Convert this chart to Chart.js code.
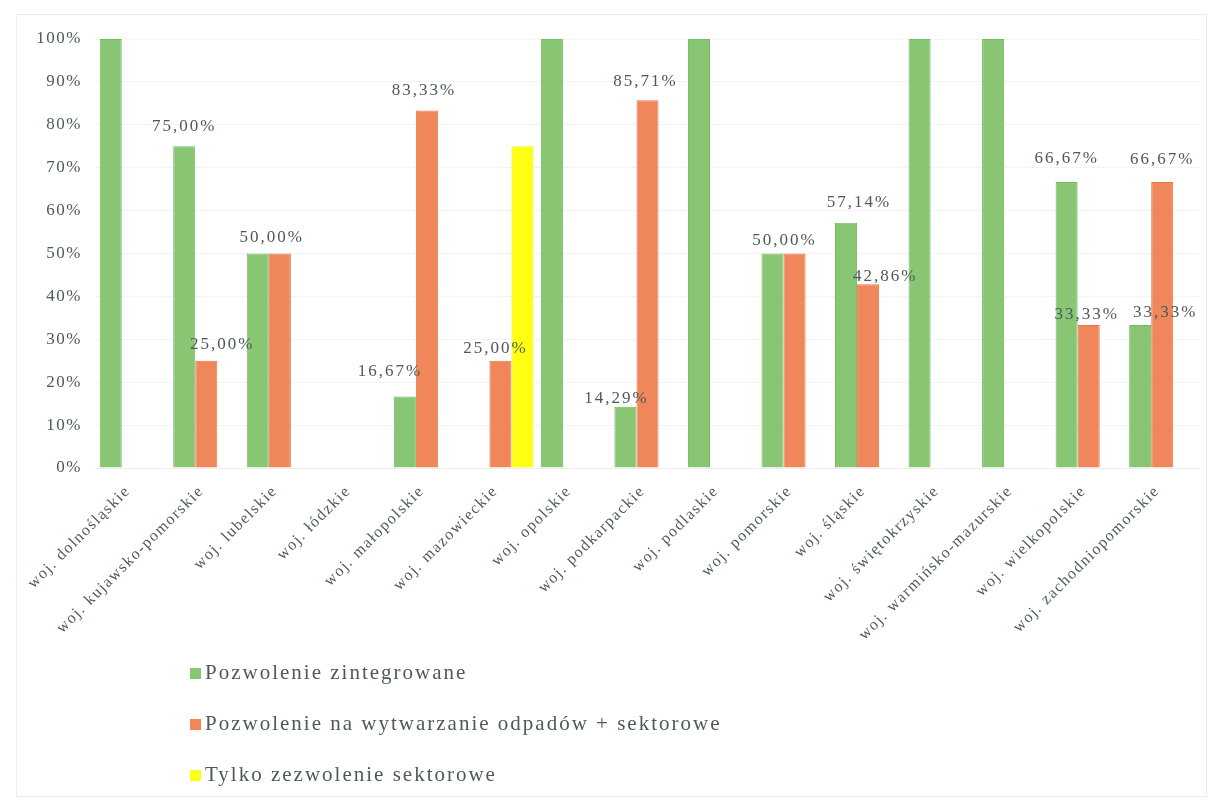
<!DOCTYPE html>
<html><head><meta charset="utf-8">
<script src="https://cdn.jsdelivr.net/npm/chart.js@4.4.0/dist/chart.umd.min.js"></script>
<style>html,body{margin:0;padding:0;background:#fff;}canvas{display:block}</style>
</head><body>
<canvas id="c" width="1213" height="800"></canvas>
<script>
// ---- data ----
const categories = ["woj. dolnośląskie","woj. kujawsko-pomorskie","woj. lubelskie","woj. łódzkie","woj. małopolskie","woj. mazowieckie","woj. opolskie","woj. podkarpackie","woj. podlaskie","woj. pomorskie","woj. śląskie","woj. świętokrzyskie","woj. warmińsko-mazurskie","woj. wielkopolskie","woj. zachodniopomorskie"];
const seriesNames = ["Pozwolenie zintegrowane","Pozwolenie na wytwarzanie odpadów + sektorowe","Tylko zezwolenie sektorowe"];
const integrated  = [100, 75, 50, null, 16.67, null, 100, 14.29, 100, 50, 57.14, 100, 100, 66.67, 33.33];
const wasteSector = [null, 25, 50, null, 83.33, 25, null, 85.71, null, 50, 42.86, null, null, 33.33, 66.67];
const sectorOnly  = [null, null, null, null, null, 75, null, null, null, null, null, null, null, null, null];
const yTickValues = [0,10,20,30,40,50,60,70,80,90,100];

// ---- styling / layout (not data) ----
const colors = ["#88c673","#f0875a","#ffff14"];
const borders = ["#74bb60","#e8774a","#f2ec00"];
const textColor = "#4d5a5a";
const serif = "'Liberation Serif','Times New Roman',serif";
// label nudges relative to default position (dx, dy of label centre vs bar top)
const labelNudge = {
  "0:1":[0,-20], "1:1":[16,-16], "0:2":[3,-16],
  "0:4":[-15,-25], "1:4":[-3,-20], "1:5":[-5,-12],
  "0:7":[-9,-8], "1:7":[-2,-19], "0:9":[1,-13],
  "0:10":[13,-20], "1:10":[17,-8],
  "0:13":[0,-23], "1:13":[-2,-10],
  "0:14":[25,-12], "1:14":[0,-22]
};

const fmt = v => v.toFixed(2).replace('.', ',') + '%';

const spacingPlugin = {
  id:'spacing',
  beforeLayout(chart){ chart.ctx.letterSpacing = '1.5px'; },
  beforeDraw(chart){
    const ctx = chart.ctx;
    ctx.letterSpacing = '1.5px';
    ctx.save();
    ctx.fillStyle = '#fff';
    ctx.fillRect(0,0,chart.width,chart.height);
    ctx.strokeStyle = '#ececec';
    ctx.lineWidth = 1;
    ctx.strokeRect(16.5,14.5,1190,782);
    ctx.restore();
  }
};

const dataLabels = {
  id:'dataLabels',
  afterDatasetsDraw(chart){
    const ctx = chart.ctx;
    ctx.save();
    ctx.letterSpacing = '2px';
    ctx.font = "17px " + serif;
    ctx.fillStyle = textColor;
    ctx.textAlign = 'center';
    ctx.textBaseline = 'middle';
    const d0 = chart.data.datasets[0].data, d1 = chart.data.datasets[1].data;
    [0,1].forEach(di => {
      const meta = chart.getDatasetMeta(di);
      chart.data.datasets[di].data.forEach((v,j) => {
        if (v == null || v >= 100) return;
        const bar = meta.data[j];
        let x = bar.x, y = bar.y;
        if (d0[j] === d1[j]) {
          if (di === 1) return;
          x = (bar.x + chart.getDatasetMeta(1).data[j].x) / 2;
        }
        const n = labelNudge[di + ":" + j] || [0,-20];
        ctx.fillText(fmt(v), x + n[0], y + n[1]);
      });
    });
    ctx.restore();
  }
};

const legendPlugin = {
  id:'vlegend',
  afterDraw(chart){
    const ctx = chart.ctx;
    ctx.save();
    ctx.letterSpacing = '2px';
    ctx.font = "21px " + serif;
    ctx.textBaseline = 'middle';
    ctx.textAlign = 'left';
    chart.data.datasets.forEach((ds,i) => {
      const cy = 673 + i*51;
      ctx.fillStyle = ds.backgroundColor;
      ctx.fillRect(190, cy-5, 11, 11);
      ctx.fillStyle = textColor;
      ctx.fillText(ds.label, 205, cy);
    });
    ctx.restore();
  }
};

new Chart(document.getElementById('c'), {
  type:'bar',
  data:{
    labels: categories,
    datasets: [integrated, wasteSector, sectorOnly].map((d,i) => ({
      label: seriesNames[i], data: d,
      backgroundColor: colors[i], borderColor: borders[i], borderWidth: 1,
      categoryPercentage: 0.9, barPercentage: 1.0
    }))
  },
  options:{
    responsive:false, animation:false,
    layout:{padding:{left:30, right:14, top:39, bottom:0}},
    plugins:{legend:{display:false}, tooltip:{enabled:false}},
    scales:{
      x:{
        grid:{display:false, drawTicks:false},
        border:{display:true, color:'#eeeeee'},
        ticks:{autoSkip:false, maxRotation:45, minRotation:45, color:textColor,
               font:{family:serif, size:16}, labelOffset:-5, padding:14},
        afterFit(s){ s.height = 332; }
      },
      y:{
        min:0, max:100,
        afterBuildTicks(s){ s.ticks = yTickValues.map(v => ({value:v})); },
        grid:{color:'#f3f3f3', drawTicks:false},
        border:{display:false},
        ticks:{color:textColor, font:{family:serif, size:17}, padding:14,
               callback: v => v + '%'},
        afterFit(s){ s.width = 66; }
      }
    }
  },
  plugins:[spacingPlugin, dataLabels, legendPlugin]
});
</script>
</body></html>
